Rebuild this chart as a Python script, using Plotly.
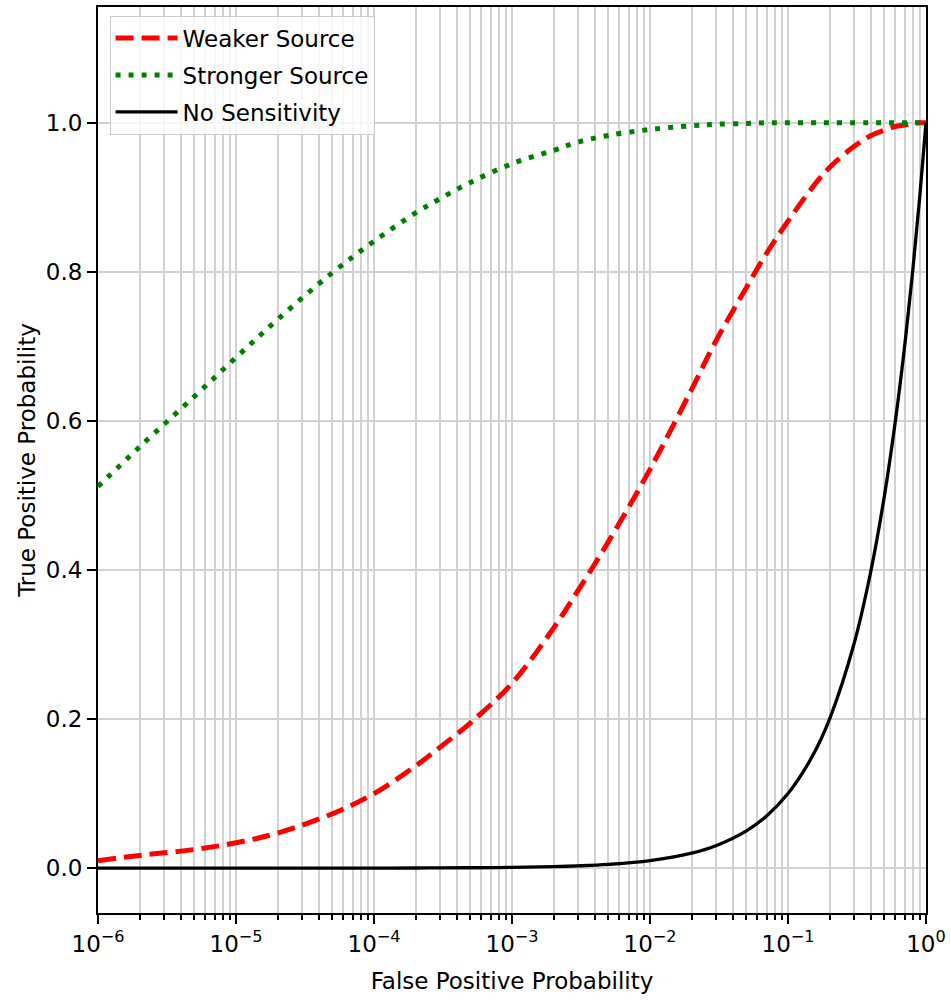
import plotly.graph_objects as go

# False positive probability grid (log-spaced samples)
fpr = [1e-6, 2e-6, 5e-6, 1e-5, 2e-5, 5e-5, 1e-4, 2e-4, 3e-4, 5e-4, 1e-3,
       2e-3, 3e-3, 5e-3, 1e-2, 2e-2, 3e-2, 5e-2, 7e-2, 0.1, 0.15, 0.2, 0.3,
       0.4, 0.5, 0.6, 0.7, 0.8, 0.9, 1.0]

# True positive probability for each detector scenario
tpr_weak = [0.010, 0.017, 0.025, 0.034, 0.047, 0.073, 0.100, 0.137, 0.162,
            0.195, 0.248, 0.322, 0.372, 0.438, 0.535, 0.642, 0.707, 0.779,
            0.825, 0.868, 0.913, 0.940, 0.968, 0.983, 0.990, 0.995, 0.997,
            0.999, 1.000, 1.000]
tpr_strong = [0.512, 0.565, 0.633, 0.685, 0.736, 0.799, 0.841, 0.879, 0.898,
              0.920, 0.945, 0.963, 0.974, 0.983, 0.991, 0.996, 0.998, 0.999,
              1.000, 1.000, 1.000, 1.000, 1.000, 1.000, 1.000, 1.000, 1.000,
              1.000, 1.000, 1.000]
tpr_none = [1e-6, 2e-6, 5e-6, 1e-5, 2e-5, 5e-5, 1e-4, 2e-4, 3e-4, 5e-4, 1e-3,
            2e-3, 3e-3, 5e-3, 1e-2, 2e-2, 3e-2, 5e-2, 7e-2, 0.1, 0.15, 0.2,
            0.3, 0.4, 0.5, 0.6, 0.7, 0.8, 0.9, 1.0]

decade_exps = [-6, -5, -4, -3, -2, -1, 0]
y_ticks = [0.0, 0.2, 0.4, 0.6, 0.8, 1.0]

FONT = "DejaVu Sans"
FS = 23
GRID = "#d2d2d2"

fig = go.Figure()
fig.add_trace(go.Scatter(
    x=fpr, y=tpr_weak, name="Weaker Source", mode="lines", legendgroup="a",
    line=dict(color="#ff0000", width=5, dash="18px,8px", shape="spline"),
))
fig.add_trace(go.Scatter(
    x=fpr, y=tpr_strong, name="Stronger Source", mode="lines", legendgroup="b",
    line=dict(color="#008000", width=5, dash="5px,8px", shape="spline"),
))
fig.add_trace(go.Scatter(
    x=fpr, y=tpr_none, name="No Sensitivity", mode="lines", legendgroup="c",
    line=dict(color="#000000", width=3.3, shape="spline"),
))

major_vals = [10.0 ** e for e in decade_exps]
major_text = ["10<sup>\u2212%d</sup>" % -e if e < 0 else "10<sup>0</sup>"
              for e in decade_exps]
minor_vals = [m * 10.0 ** e for e in decade_exps[:-1] for m in range(2, 10)]

fig.update_layout(
    width=951, height=1001,
    margin=dict(l=98, r=23, t=5, b=88),
    paper_bgcolor="white", plot_bgcolor="white",
    font=dict(family=FONT, size=FS, color="black"),
    showlegend=True,
    legend=dict(
        x=0.014, y=0.9905, xanchor="left", yanchor="top",
        bgcolor="rgba(255,255,255,0.8)", bordercolor="#cccccc", borderwidth=1,
        font=dict(family=FONT, size=FS, color="black"),
        itemwidth=62, tracegroupgap=4,
    ),
    xaxis=dict(
        type="log", range=[-6, 0],
        tickmode="array", tickvals=major_vals, ticktext=major_text,
        ticks="outside", ticklen=9, tickwidth=2, tickcolor="black",
        showgrid=True, gridcolor=GRID, gridwidth=1.5,
        minor=dict(tickmode="array", tickvals=minor_vals, ticks="outside",
                   ticklen=5, tickwidth=1.5, tickcolor="black",
                   showgrid=True, gridcolor=GRID, gridwidth=1.5),
        showline=True, linecolor="black", linewidth=2, mirror=True,
        zeroline=False,
        title=dict(text="False Positive Probability", standoff=17,
                   font=dict(family=FONT, size=FS, color="black")),
    ),
    yaxis=dict(
        range=[-0.0602, 1.1553],
        tickmode="array", tickvals=y_ticks,
        ticktext=["%.1f" % v for v in y_ticks],
        ticks="outside", ticklen=9, tickwidth=2, tickcolor="black",
        showgrid=True, gridcolor=GRID, gridwidth=1.5,
        showline=True, linecolor="black", linewidth=2, mirror=True,
        zeroline=False,
        title=dict(text="True Positive Probability", standoff=4,
                   font=dict(family=FONT, size=FS, color="black")),
    ),
)

fig.write_html("out.html")
